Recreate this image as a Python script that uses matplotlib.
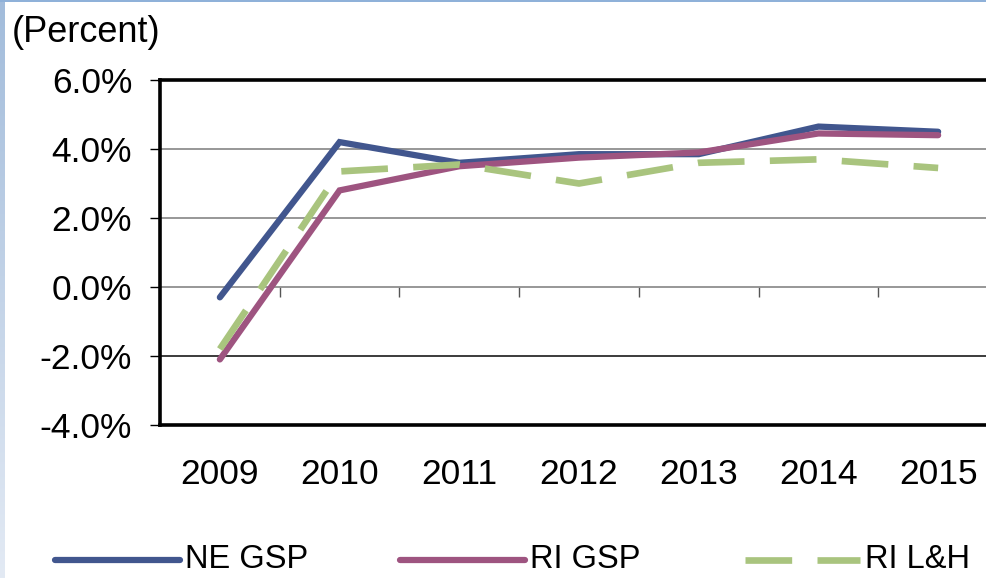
import matplotlib
matplotlib.use("Agg")
import matplotlib.pyplot as plt
import numpy as np
from matplotlib.lines import Line2D
from matplotlib.colors import LinearSegmentedColormap

plt.rcParams['font.family'] = ['Liberation Sans', 'DejaVu Sans']

years = ["2009", "2010", "2011", "2012", "2013", "2014", "2015"]
ne_gsp = [-0.3, 4.2, 3.6, 3.85, 3.85, 4.65, 4.5]
ri_gsp = [-2.1, 2.8, 3.5, 3.75, 3.9, 4.45, 4.4]
ri_lh = [-1.8, 3.35, 3.55, 3.0, 3.6, 3.7, 3.45]
y_ticks = [-4.0, -2.0, 0.0, 2.0, 4.0, 6.0]

BLUE = "#41568e"
PINK = "#9e5480"
GREEN = "#a9c47e"
GRID = "#858585"

W, H = 986, 578
fig = plt.figure(figsize=(W / 100, H / 100), dpi=100)
fig.patch.set_facecolor("white")

# soft blue frame on the left and top edges
edge = fig.add_axes([0, 0, 5 / W, 1])
grad = np.linspace(0, 1, 256).reshape(-1, 1)
cmap = LinearSegmentedColormap.from_list("edge", ["#e3eaf4", "#a2bcdb"])
edge.imshow(grad, aspect="auto", cmap=cmap, origin="lower", extent=[0, 1, 0, 1])
edge.set_axis_off()
top = fig.add_axes([0, 1 - 2 / H, 1, 2 / H])
top.set_facecolor("#8fb1d9")
top.set_xticks([]); top.set_yticks([])
for s in top.spines.values():
    s.set_visible(False)

ax = fig.add_axes([160 / W, 1 - 425 / H, (998 - 160) / W, (425 - 80) / H])
x = np.arange(len(years))

ax.set_xlim(-0.5, len(years) - 0.5)
ax.set_ylim(-4.0, 6.0)

for v in y_ticks[1:-1]:
    ax.axhline(v, color="#1a1a1a" if v < 0 else GRID, lw=1.2, zorder=1)

ax.plot(x, ne_gsp, color=BLUE, lw=4.5, solid_capstyle="round",
        solid_joinstyle="miter", zorder=3)
ax.plot(x, ri_gsp, color=PINK, lw=4.5, solid_capstyle="round",
        solid_joinstyle="miter", zorder=4)
ax.plot(x, ri_lh, color=GREEN, lw=4.8, dashes=(7.0, 3.8),
        dash_capstyle="butt", zorder=5)

for side in ["left", "top", "bottom"]:
    ax.spines[side].set_linewidth(2.6)
    ax.spines[side].set_color("black")
ax.spines["right"].set_visible(False)

ax.set_yticks(y_ticks)
ax.set_yticklabels([f"{v:.1f}%" for v in y_ticks], fontsize=25.5)
ax.tick_params(axis="y", direction="out", length=7, width=1.0, color="black", pad=13)

ax.set_xticks(x)
ax.set_xticklabels(years, fontsize=25.5)
ax.tick_params(axis="x", length=0, pad=24)

# category axis crossing at zero
cat = ax.secondary_xaxis(0.4)
cat.set_xticks(np.arange(0.5, len(years) - 0.5, 1.0))
cat.set_xticklabels([])
cat.tick_params(axis="x", direction="out", length=7, width=1.0, color="#555555")
cat.spines["bottom"].set_visible(False)

fig.text(12 / W, 1 - 33 / H, "(Percent)", fontsize=26, va="center", ha="left")

# legend row
leg_y = 1 - 560 / H
items = [
    (55, 180, 185, "NE GSP", dict(color=BLUE, lw=4.5, solid_capstyle="round")),
    (400, 525, 530, "RI GSP", dict(color=PINK, lw=4.5, solid_capstyle="round")),
    (745, 860, 865, "RI L&H", dict(color=GREEN, lw=4.8, dashes=(7.0, 3.8),
                                   dash_capstyle="butt")),
]
for x0, x1, tx, label, style in items:
    fig.add_artist(Line2D([x0 / W, x1 / W], [leg_y, leg_y],
                          transform=fig.transFigure, **style))
    fig.text(tx / W, leg_y, label, fontsize=23.5, va="center", ha="left")

fig.savefig("out.png", dpi=100, facecolor=fig.get_facecolor())
